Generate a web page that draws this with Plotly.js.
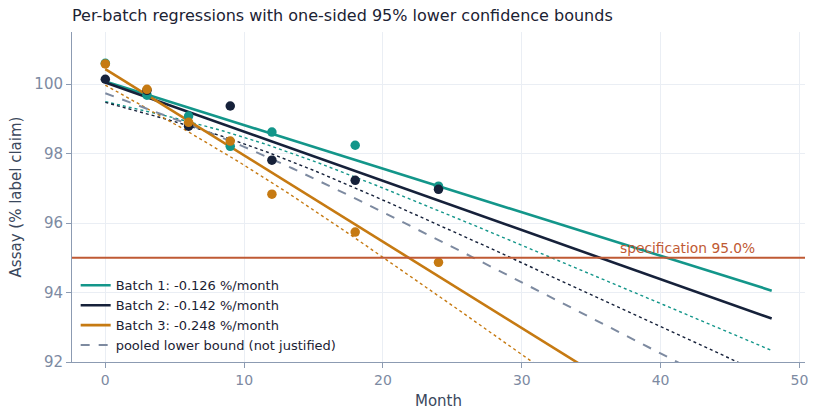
<!DOCTYPE html>
<html><head><meta charset="utf-8">
<script src="https://cdn.plot.ly/plotly-3.0.1.min.js"></script>
<style>body{margin:0;background:#fff}#c{width:819px;height:420px}</style>
</head><body><div id="c"></div>
<script>
const months = [0, 3, 6, 9, 12, 18, 24];
const batch1 = [100.60, 99.68, 99.08, 98.21, 98.62, 98.24, 97.06];
const batch2 = [100.14, 99.82, 98.79, 99.37, 97.81, 97.23, 96.97];
const batch3 = [100.58, 99.85, 98.90, 98.36, 96.83, 95.74, 94.87];
const batchNames = ["Batch 1: -0.126 %/month", "Batch 2: -0.142 %/month", "Batch 3: -0.248 %/month"];
const pooledName = "pooled lower bound (not justified)";
const specLimit = 95.0;
const shelfMonths = 48;
const colors = ["#13968a", "#16213a", "#c67a12"];

function fit(x, y) {
  const n = x.length;
  const mx = x.reduce((a, b) => a + b, 0) / n;
  const my = y.reduce((a, b) => a + b, 0) / n;
  let sxx = 0, sxy = 0;
  for (let i = 0; i < n; i++) { sxx += (x[i] - mx) ** 2; sxy += (x[i] - mx) * (y[i] - my); }
  const b = sxy / sxx, a = my - b * mx;
  let sse = 0;
  for (let i = 0; i < n; i++) sse += (y[i] - a - b * x[i]) ** 2;
  const s = Math.sqrt(sse / (n - 2));
  return { a, b, s, n, mx, sxx };
}
// one-sided 95% t quantiles
function t95(df) {
  const tab = {1:6.314,2:2.920,3:2.353,4:2.132,5:2.015,6:1.943,7:1.895,8:1.860,9:1.833,10:1.812,
    11:1.796,12:1.782,13:1.771,14:1.761,15:1.753,16:1.746,17:1.740,18:1.734,19:1.729,20:1.725};
  return tab[df] || 1.645;
}
const grid = [];
for (let i = 0; i <= shelfMonths * 4; i++) grid.push(i / 4);

function lowerBound(f) {
  const t = t95(f.n - 2);
  return grid.map(x => f.a + f.b * x - t * f.s * Math.sqrt(1 / f.n + (x - f.mx) ** 2 / f.sxx));
}

const batches = [batch1, batch2, batch3];
const traces = [];
batches.forEach((y, k) => {
  const f = fit(months, y);
  traces.push({ x: grid, y: lowerBound(f), mode: "lines", line: { color: colors[k], width: 1.4, dash: "dot" },
    showlegend: false, hoverinfo: "skip" });
});
const allX = [].concat(months, months, months);
const allY = [].concat(batch1, batch2, batch3);
const pf = fit(allX, allY);
traces.push({ x: grid, y: lowerBound(pf), mode: "lines", name: pooledName,
  line: { color: "#7d8aa0", width: 2, dash: "dash" } });
batches.forEach((y, k) => {
  const f = fit(months, y);
  traces.push({ x: grid, y: grid.map(x => f.a + f.b * x), mode: "lines", name: batchNames[k],
    line: { color: colors[k], width: 2.6 }, legendrank: k + 1 });
});
traces[3].legendrank = 10;
batches.forEach((y, k) => {
  traces.push({ x: months, y: y, mode: "markers", showlegend: false,
    marker: { color: colors[k], size: 9.5 } });
});

const layout = {
  width: 819, height: 420,
  margin: { l: 72, r: 14, t: 32, b: 58 },
  paper_bgcolor: "#fff", plot_bgcolor: "#fff",
  font: { family: "DejaVu Sans, sans-serif", color: "#1b2233" },
  title: { text: "Per-batch regressions with one-sided 95% lower confidence bounds",
    x: 0, xref: "paper", xanchor: "left", y: 1, yref: "container", yanchor: "top", pad: { t: 10 },
    font: { size: 16, color: "#1b2233" } },
  xaxis: { range: [-2.4, 50.4], tickvals: [0, 10, 20, 30, 40, 50], showline: true, linecolor: "#8c9bb2",
    linewidth: 1, ticks: "outside", ticklen: 5, tickcolor: "#8c9bb2", gridcolor: "#eaeef4", zeroline: false,
    tickfont: { size: 14, color: "#7d8aa2" },
    title: { text: "Month", font: { size: 15, color: "#3a475c" }, standoff: 8 } },
  yaxis: { range: [92, 101.5], tickvals: [92, 94, 96, 98, 100], showline: true, linecolor: "#8c9bb2",
    linewidth: 1, ticks: "outside", ticklen: 5, tickcolor: "#8c9bb2", gridcolor: "#eaeef4", zeroline: false,
    tickfont: { size: 15, color: "#7d8aa2" },
    title: { text: "Assay (% label claim)", font: { size: 15, color: "#3a475c" }, standoff: 9 } },
  shapes: [{ type: "line", xref: "paper", x0: 0, x1: 1, yref: "y", y0: specLimit, y1: specLimit,
    line: { color: "#bf5a34", width: 2 } }],
  annotations: [{ xref: "paper", x: 0.935, yref: "y", y: specLimit, xanchor: "right", yanchor: "bottom",
    text: "specification " + specLimit.toFixed(1) + "%", showarrow: false,
    font: { size: 13.8, color: "#bf5a34" } }],
  legend: { x: 0.005, y: 0.005, xanchor: "left", yanchor: "bottom", bgcolor: "rgba(255,255,255,0)",
    font: { size: 13, color: "#1b2233" }, traceorder: "normal", tracegroupgap: 0 },
  showlegend: true
};
Plotly.newPlot("c", traces, layout, { displayModeBar: false, staticPlot: true });
</script></body></html>
